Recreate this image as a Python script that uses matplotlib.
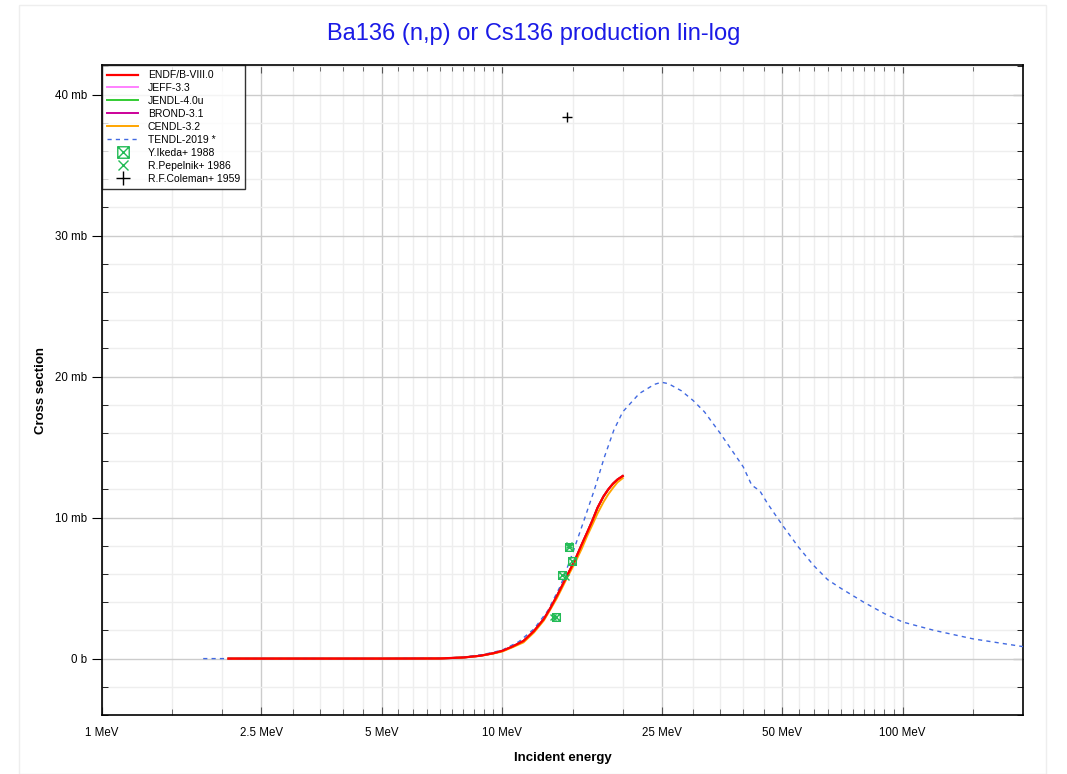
import numpy as np
import matplotlib
matplotlib.use('Agg')
import matplotlib.pyplot as plt
from matplotlib.path import Path
from matplotlib.patches import Rectangle
from matplotlib.ticker import FixedLocator, NullFormatter

# evaluated curves (MeV, mb)
tendl_e = [1.79, 2.0, 3, 5, 7, 8, 9, 10, 11, 12, 13, 14, 15, 16, 17, 18, 19, 20, 22, 24, 25, 26,
           28, 30, 32, 35, 40, 42, 44, 46, 50, 55, 60, 65, 70, 80, 90, 100, 120, 150, 200]
tendl_xs = [0, 0, 0, 0, 0.02, 0.1, 0.3, 0.6, 1.2, 2.1, 3.4, 5.2, 7.5, 9.8, 12.0, 14.3, 16.2, 17.5,
            18.8, 19.45, 19.6, 19.5, 19.0, 18.3, 17.5, 16.0, 13.6, 12.3, 11.9, 11.0, 9.5, 7.9,
            6.6, 5.6, 5.0, 4.0, 3.2, 2.6, 2.0, 1.4, 0.85]

endf_e = [2.07, 3, 5, 7, 8, 8.8, 9.5, 10, 10.6, 11.3, 12.0, 12.7, 13.2, 13.7, 14.1, 14.5, 15.2,
          15.8, 16.3, 16.8, 17.3, 17.9, 18.4, 18.9, 19.4, 20]
endf_xs = [0, 0, 0, 0.01, 0.08, 0.2, 0.38, 0.55, 0.85, 1.25, 1.95, 2.8, 3.6, 4.45, 5.15, 5.85, 7.0,
           8.1, 8.95, 9.8, 10.7, 11.5, 12.0, 12.4, 12.7, 12.95]

cendl_e = [2.07, 3, 5, 7, 8, 8.8, 9.5, 10, 10.6, 11.3, 12.0, 12.7, 13.2, 13.7, 14.1, 14.5, 15.2,
           15.8, 16.3, 16.8, 17.3, 17.9, 18.4, 18.9, 19.4, 20]
cendl_xs = [0, 0, 0, 0.01, 0.08, 0.2, 0.36, 0.5, 0.8, 1.15, 1.85, 2.7, 3.5, 4.3, 5.0, 5.7, 6.8,
            7.8, 8.7, 9.5, 10.3, 11.1, 11.65, 12.1, 12.5, 12.8]

# experimental points
ikeda_e = [13.6, 14.1, 14.7, 14.9]
ikeda_xs = [2.95, 5.9, 7.9, 6.9]
pepelnik_e = [13.4, 14.4, 14.7]
pepelnik_xs = [2.95, 5.8, 8.05]
coleman_e = [14.5]
coleman_xs = [38.4]

x_major = [1, 2.5, 5, 10, 25, 50, 100]
x_major_labels = ['1 MeV', '2.5 MeV', '5 MeV', '10 MeV', '25 MeV', '50 MeV', '100 MeV']
y_major = [0, 10, 20, 30, 40]
y_major_labels = ['0 b', '10 mb', '20 mb', '30 mb', '40 mb']

plt.rcParams['font.family'] = ['Liberation Sans', 'DejaVu Sans']

fig = plt.figure(figsize=(10.67, 7.74), dpi=100)
fig.patches.append(Rectangle((19 / 1067, 0), 1027 / 1067, 1 - 5 / 774, transform=fig.transFigure,
                             fill=False, edgecolor='#eeeeee', linewidth=1))
ax = fig.add_axes([102 / 1067, 1 - 715 / 774, 921 / 1067, 650 / 774])

# boxed cross marker
box_x = Path([(-1, -1), (1, -1), (1, 1), (-1, 1), (-1, -1), (-1, -1), (1, 1), (-1, 1), (1, -1)],
             [Path.MOVETO, Path.LINETO, Path.LINETO, Path.LINETO, Path.CLOSEPOLY,
              Path.MOVETO, Path.LINETO, Path.MOVETO, Path.LINETO])

ax.plot(endf_e, endf_xs, color='#ff80ff', lw=1.4, label='JEFF-3.3', zorder=3)
ax.plot(endf_e, endf_xs, color='#33cc33', lw=1.4, label='JENDL-4.0u', zorder=3)
ax.plot(endf_e, endf_xs, color='#cc0099', lw=1.4, label='BROND-3.1', zorder=3)
ax.plot(cendl_e, cendl_xs, color='#ffa500', lw=1.4, label='CENDL-3.2', zorder=3)
ax.plot(tendl_e, tendl_xs, color='#4169e1', lw=1.0, ls=(0, (3, 3)), label='TENDL-2019 *', zorder=3)
ax.plot(endf_e, endf_xs, color='#ff0000', lw=1.6, label='ENDF/B-VIII.0', zorder=4)
ax.plot(ikeda_e, ikeda_xs, ls='none', marker=box_x, ms=5.5, mfc='none', mec='#22bb55', mew=1,
        label='Y.Ikeda+ 1988', zorder=5)
ax.plot(pepelnik_e, pepelnik_xs, ls='none', marker='x', ms=5, mec='#22bb55', mew=1,
        label='R.Pepelnik+ 1986', zorder=5)
ax.plot(coleman_e, coleman_xs, ls='none', marker='+', ms=7, mec='black', mew=1,
        label='R.F.Coleman+ 1959', zorder=5)

ax.set_xscale('log')
ax.set_xlim(1, 200)
ax.set_ylim(-4, 42.1)

x_minor = ([1.5, 2, 3, 3.5, 4, 4.5, 5.5, 6, 6.5, 7, 7.5, 8, 8.5, 9, 9.5]
           + [15, 20, 30, 35, 40, 45, 55, 60, 65, 70, 75, 80, 85, 90, 95, 150])
ax.xaxis.set_major_locator(FixedLocator(x_major))
ax.set_xticklabels(x_major_labels)
ax.xaxis.set_minor_locator(FixedLocator(x_minor))
ax.xaxis.set_minor_formatter(NullFormatter())
ax.yaxis.set_major_locator(FixedLocator(y_major))
ax.set_yticklabels(y_major_labels)
ax.yaxis.set_minor_locator(FixedLocator([v for v in range(-4, 43, 2) if v % 10 != 0]))

ax.grid(which='major', color='#cccccc', lw=1)
ax.grid(which='minor', color='#eeeeee', lw=1)
ax.set_axisbelow(True)

ax.tick_params(which='both', labelsize=8.3, direction='in', top=True, right=True)
ax.tick_params(axis='y', which='major', direction='out', length=7)
ax.tick_params(axis='y', which='major', right=False)
ax.tick_params(axis='x', which='major', length=6, pad=9)
ax.tick_params(which='minor', length=4)
ax.tick_params(axis='x', which='both', top=True, color='#555555')
for s in ax.spines.values():
    s.set_linewidth(1.2)
# right side major ticks point inward too
ax2 = ax.secondary_yaxis('right')
ax2.yaxis.set_major_locator(FixedLocator(y_major))
ax2.tick_params(direction='in', length=7, labelright=False)
ax2.spines['right'].set_visible(False)

ax.set_xlabel('Incident energy', fontsize=9.5, fontweight='bold', labelpad=9)
ax.set_ylabel('Cross section', fontsize=9.5, fontweight='bold', labelpad=6)
fig.suptitle('Ba136 (n,p) or Cs136 production lin-log', fontsize=17, color='#1a1ae6', y=0.97)

handles, labels = ax.get_legend_handles_labels()
order = ['ENDF/B-VIII.0', 'JEFF-3.3', 'JENDL-4.0u', 'BROND-3.1', 'CENDL-3.2', 'TENDL-2019 *',
         'Y.Ikeda+ 1988', 'R.Pepelnik+ 1986', 'R.F.Coleman+ 1959']
hmap = dict(zip(labels, handles))
leg = ax.legend([hmap[k] for k in order], order, loc='upper left', fontsize=7.5, frameon=True,
                fancybox=False, borderaxespad=0, handlelength=3, labelspacing=0.28,
                handletextpad=0.9, borderpad=0.5, markerscale=1.5)
leg.get_frame().set_edgecolor('black')
leg.get_frame().set_linewidth(1)

fig.savefig('out.png', dpi=100)
